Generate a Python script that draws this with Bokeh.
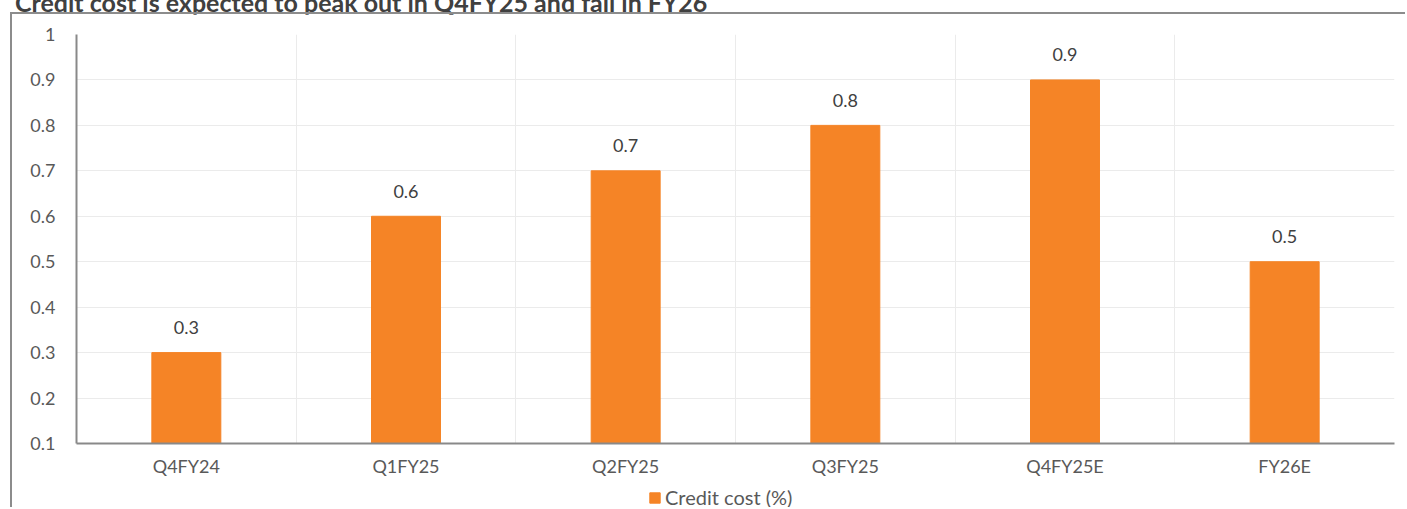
from bokeh.plotting import figure
from bokeh.models import (ColumnDataSource, LabelSet, Legend, LegendItem,
                          FixedTicker, Range1d, Div)
from bokeh.layouts import column
from bokeh.core.properties import value
from bokeh.embed import file_html
from bokeh.resources import INLINE

# Credit cost by period (%)
periods = ["Q4FY24", "Q1FY25", "Q2FY25", "Q3FY25", "Q4FY25E", "FY26E"]
credit_cost = [0.3, 0.6, 0.7, 0.8, 0.9, 0.5]
y_ticks = [0.1, 0.2, 0.3, 0.4, 0.5, 0.6, 0.7, 0.8, 0.9, 1.0]
title_text = "Credit cost is expected to peak out in Q4FY25 and fall in FY26"
series_name = "Credit cost (%)"

FONT = "Lato"
TEXT_COLOR = "#595959"
BAR_COLOR = "#F58426"
EDGE_COLOR = "#8C8C8C"

xpos = [i + 0.5 for i in range(len(periods))]
source = ColumnDataSource(dict(
    x=xpos,
    top=credit_cost,
    label=[f"{v:g}" for v in credit_cost],
))

# chart area sits inside a box with a grey top/left edge
p = figure(width=1395, height=469, output_backend="svg", toolbar_location=None,
           x_range=Range1d(0, len(periods)), y_range=Range1d(y_ticks[0], y_ticks[-1]),
           min_border_left=64, min_border_right=13, min_border_top=20, min_border_bottom=40,
           margin=(0, 0, 0, 10),
           styles={"border-top": f"2px solid {EDGE_COLOR}",
                   "border-left": f"2px solid {EDGE_COLOR}"})
p.outline_line_color = None
p.background_fill_color = "white"
p.border_fill_color = "white"

bars = p.vbar(x="x", top="top", bottom=y_ticks[0], width=0.314, source=source,
              fill_color=BAR_COLOR, line_color=BAR_COLOR)

# value labels above each bar
p.add_layout(LabelSet(x="x", y="top", text="label", source=source, y_offset=25,
                      text_align="center", text_baseline="middle",
                      text_font=value(FONT), text_font_size="18px", text_color="#404040"))

# axes
p.xaxis.ticker = FixedTicker(ticks=xpos)
p.xaxis.major_label_overrides = {x: name for x, name in zip(xpos, periods)}
p.yaxis.ticker = FixedTicker(ticks=y_ticks)
p.yaxis.major_label_overrides = {t: f"{t:g}" for t in y_ticks}
for ax in (p.xaxis[0], p.yaxis[0]):
    ax.major_tick_line_color = None
    ax.minor_tick_line_color = None
    ax.axis_line_color = "#898989"
    ax.axis_line_width = 2
    ax.major_label_text_font = FONT
    ax.major_label_text_font_size = "18px"
    ax.major_label_text_color = TEXT_COLOR
p.xaxis.major_label_standoff = 5
p.yaxis.major_label_standoff = 15

# grid: horizontal at every tick, vertical at category boundaries
p.ygrid.ticker = FixedTicker(ticks=y_ticks)
p.ygrid.grid_line_color = "#EBEBEB"
p.xgrid.ticker = FixedTicker(ticks=list(range(len(periods) + 1)))
p.xgrid.grid_line_color = "#EBEBEB"

# legend strip under the chart, continuing the box's left edge;
# its swatch renderer shares the bar data but its view range excludes all of it
lg = figure(width=1395, height=26, output_backend="svg", toolbar_location=None,
            x_axis_location=None, y_axis_location=None,
            x_range=Range1d(100, 101), y_range=Range1d(100, 101),
            min_border=0, margin=(0, 0, 0, 10),
            styles={"border-left": f"2px solid {EDGE_COLOR}"})
lg.outline_line_color = None
lg.border_fill_color = "white"
for g in lg.grid:
    g.visible = False
swatch = lg.vbar(x="x", top="top", bottom=y_ticks[0], width=0.314, source=source,
                 fill_color=BAR_COLOR, line_color=BAR_COLOR)
legend = Legend(items=[LegendItem(label=series_name, renderers=[swatch], index=0)],
                location=(572, -2), orientation="horizontal",
                label_text_font=FONT, label_text_font_size="20px",
                label_text_color=TEXT_COLOR, glyph_width=13, glyph_height=13,
                border_line_color=None, background_fill_alpha=0,
                padding=0, margin=0, label_standoff=4)
lg.add_layout(legend, "center")

title = Div(
    text=(f'<div style="font-family:Lato; font-weight:bold; font-size:25px; '
          f'line-height:25px; color:#404040; white-space:nowrap; '
          f'margin-top:-22px; margin-left:15px">{title_text}</div>'),
    width=1407, height=12, margin=0, styles={"overflow": "visible"})

layout = column(title, p, lg, spacing=0)

open("out.html", "w").write(file_html(layout, INLINE))
